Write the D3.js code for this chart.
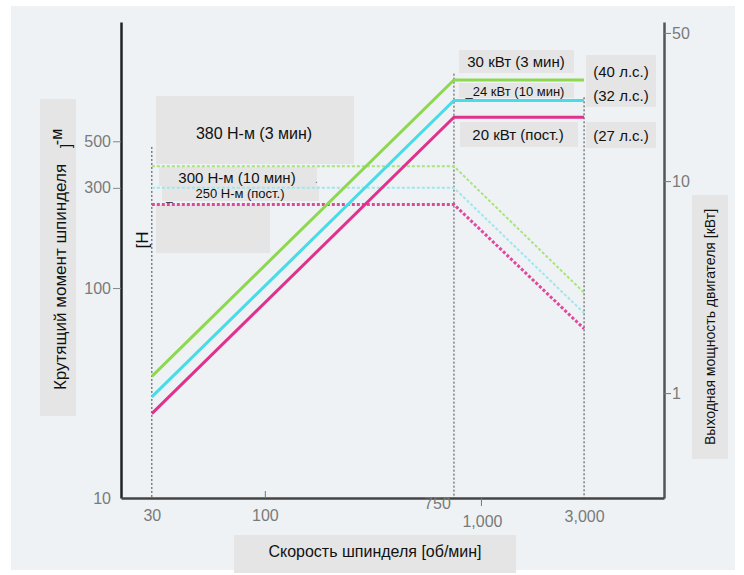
<!DOCTYPE html>
<html>
<head>
<meta charset="utf-8">
<script src="https://cdnjs.cloudflare.com/ajax/libs/d3/7.8.5/d3.min.js"></script>
<style>
  body { margin: 0; background: #fff; }
  svg { display: block; font-family: "Liberation Sans", Arial, sans-serif; }
</style>
</head>
<body>
<svg width="744" height="575"></svg>
<script>
// spindle speed breakpoints [об/мин]
const speeds = [30, 750, 3000];
// output power [кВт]
const power3min = [1.2, 30, 30];
const power10min = [0.96, 24, 24];
const powerCont = [0.8, 20, 20];
// spindle torque [Н-м]
const torque3min = [380, 380, 95];
const torque10min = [300, 300, 76];
const torqueCont = [250, 250, 64];

const torqueTicks = [10, 100, 300, 500];
const powerTicks = [1, 10, 50];
const speedTicks = [30, 100, 750, 1000, 3000];
const speedTickLabels = ["30", "100", "750", "1,000", "3,000"];
const guideSpeeds = [30, 750, 3000];
const guideTops = [470, 1050, 810]; // in torque units

var svg = d3.select("svg");

// panel background
svg.append("rect").attr("x", 11).attr("y", 6).attr("width", 724).attr("height", 564)
    .attr("fill", "#eef2f5");

var x = d3.scaleLog().domain([21.6, 7030]).range([121, 664]);
var yT = d3.scaleLog().domain([10, 1850]).range([498, 22]);
var yP = d3.scaleLog().domain([0.32, 56.3]).range([498, 22]);

// gray label boxes
var boxes = [
    [156, 96, 198, 68], [159, 167, 158, 19], [162, 186, 157, 15], [156, 205, 114, 48],
    [459, 50, 115, 23], [459, 83, 115, 15], [460, 122, 118, 25],
    [586, 55, 70, 52], [586, 122, 70, 26],
    [40, 99, 36, 317], [692, 195, 36, 264], [234, 535, 282, 38]
];
svg.append("g").selectAll("rect")
    .data(boxes)
    .enter()
    .append("rect")
    .attr("x", d => d[0]).attr("y", d => d[1])
    .attr("width", d => d[2]).attr("height", d => d[3])
    .attr("fill", "#e5e5e5");

// vertical dotted guides
svg.append("g").selectAll("line")
    .data(guideSpeeds)
    .enter()
    .append("line")
    .attr("x1", d => x(d)).attr("x2", d => x(d))
    .attr("y1", (d, i) => yT(guideTops[i])).attr("y2", yT(10))
    .attr("stroke", "#444")
    .attr("stroke-width", 1)
    .attr("stroke-dasharray", "2,2");

function series(vals) {
    return speeds.map((s, i) => [s, vals[i]]);
}

var lineT = d3.line().x(d => x(d[0])).y(d => yT(d[1]));
var lineP = d3.line().x(d => x(d[0])).y(d => yP(d[1]));

// torque curves (dotted)
var torqueSeries = [
    { v: torque3min, color: "#a9e47e", w: 2, dash: "3,2" },
    { v: torque10min, color: "#9fe6ee", w: 2, dash: "3,2" },
    { v: torqueCont, color: "#e0489e", w: 3, dash: "3,2" }
];
svg.append("g").selectAll("path")
    .data(torqueSeries)
    .enter()
    .append("path")
    .attr("d", d => lineT(series(d.v)))
    .attr("fill", "none")
    .attr("stroke", d => d.color)
    .attr("stroke-width", d => d.w)
    .attr("stroke-dasharray", d => d.dash);

// power curves (solid)
var powerSeries = [
    { v: power3min, color: "#8ed850" },
    { v: power10min, color: "#48dbe8" },
    { v: powerCont, color: "#e0328c" }
];
svg.append("g").selectAll("path")
    .data(powerSeries)
    .enter()
    .append("path")
    .attr("d", d => lineP(series(d.v)))
    .attr("fill", "none")
    .attr("stroke", d => d.color)
    .attr("stroke-width", 3);

// axes
var axisLeft = svg.append("g").attr("transform", "translate(121,0)")
    .call(d3.axisLeft(yT).tickValues(torqueTicks).tickFormat(d3.format("d")).tickSize(8).tickSizeOuter(0).tickPadding(2));
axisLeft.select(".domain").attr("stroke", "#222").attr("stroke-width", 2.5);
axisLeft.selectAll(".tick line").attr("stroke", "#888");
axisLeft.selectAll(".tick").filter(d => d === 10).select("line").remove();
axisLeft.selectAll(".tick text").attr("fill", "#7a7a7a").style("font-size", "16px");

var axisRight = svg.append("g").attr("transform", "translate(664,0)")
    .call(d3.axisRight(yP).tickValues(powerTicks).tickFormat(d3.format("d")).tickSize(7).tickSizeOuter(0).tickPadding(1));
axisRight.select(".domain").attr("stroke", "#555").attr("stroke-width", 2.5);
axisRight.selectAll(".tick line").attr("stroke", "#777");
axisRight.selectAll(".tick text").attr("fill", "#7a7a7a").style("font-size", "16px");

var labelShift = { 30: [0, 12], 100: [0, 12], 750: [-17, 0], 1000: [1, 18], 3000: [0, 13] };
var axisBottom = svg.append("g").attr("transform", "translate(0,498)")
    .call(d3.axisBottom(x).tickValues(speedTicks).tickFormat((d, i) => speedTickLabels[i]).tickSize(0).tickSizeOuter(0));
axisBottom.select(".domain").attr("stroke", "#444").attr("stroke-width", 2.5);
axisBottom.selectAll(".tick text")
    .attr("fill", "#7a7a7a").style("font-size", "16px")
    .attr("dx", d => labelShift[d][0]).attr("y", d => labelShift[d][1]).attr("dy", "0.71em");
axisBottom.selectAll(".tick").filter(d => d === 100).append("line")
    .attr("y1", 0).attr("y2", -7).attr("stroke", "#777");
axisBottom.selectAll(".tick").filter(d => d === 1000).append("line")
    .attr("y1", 0).attr("y2", 8).attr("stroke", "#777");

// label texts
var labels = [
    ["380 Н-м (3 мин)", 254, 139, 16],
    ["300 Н-м (10 мин)", 237, 183, 15],
    ["250 Н-м (пост.)", 240, 198, 13],
    ["30 кВт (3 мин)", 516, 67, 15],
    ["_24 кВт (10 мин)", 515, 96, 13],
    ["20 кВт (пост.)", 518, 140, 15],
    ["(40 л.с.)", 621, 77, 15],
    ["(32 л.с.)", 621, 101, 15],
    ["(27 л.с.)", 621, 141, 15],
    ["Скорость шпинделя [об/мин]", 375, 557, 16]
];
svg.append("g").selectAll("text")
    .data(labels)
    .enter()
    .append("text")
    .attr("x", d => d[1]).attr("y", d => d[2])
    .attr("text-anchor", "middle")
    .style("font-size", d => d[3] + "px")
    .attr("fill", "#111")
    .text(d => d[0]);

svg.append("text").attr("x", 315).attr("y", 183).attr("font-size", 10).attr("fill", "#666").text(".");
svg.append("text").attr("x", 166).attr("y", 200).attr("font-size", 12).attr("fill", "#333").text("_");

// rotated labels
var vlabels = [
    ["Крутящий момент шпинделя", 66, 277, 17],
    ["-м", 62, 137, 16],
    ["]", 71, 146, 14],
    ["[Н", 148, 240, 17],
    ["Выходная мощность двигателя [кВт]", 715, 327, 14]
];
svg.append("g").selectAll("text")
    .data(vlabels)
    .enter()
    .append("text")
    .attr("transform", d => "translate(" + d[1] + "," + d[2] + ") rotate(-90)")
    .attr("text-anchor", "middle")
    .style("font-size", d => d[3] + "px")
    .attr("fill", "#111")
    .text(d => d[0]);
</script>
</body>
</html>
